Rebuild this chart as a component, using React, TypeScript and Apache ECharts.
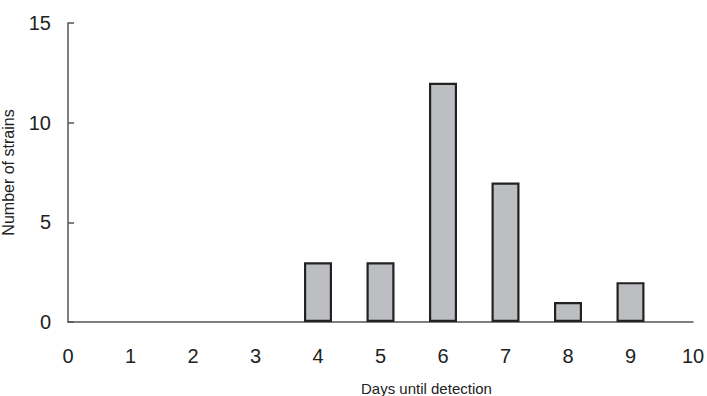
import React, { useEffect, useRef } from "react";
import * as echarts from "echarts";

const days = [4, 5, 6, 7, 8, 9];
const strains = [3, 3, 12, 7, 1, 2];
const xName = "Days until detection";
const yName = "Number of strains";

export default function App() {
  const ref = useRef<HTMLDivElement>(null);
  useEffect(() => {
    const chart = echarts.init(ref.current!, null, { renderer: "svg" });
    const font = "'Liberation Sans', Arial, sans-serif";
    chart.setOption({
      animation: false,
      backgroundColor: "#ffffff",
      grid: { left: 68, right: 14, top: 23, bottom: 74, containLabel: false, outerBoundsMode: "none" },
      xAxis: {
        type: "value",
        min: 0,
        max: 10,
        interval: 1,
        axisLine: { show: true, lineStyle: { color: "#555555", width: 1.5 } },
        axisTick: { show: false },
        splitLine: { show: false },
        axisLabel: { color: "#222222", fontSize: 20, fontFamily: font, margin: 24 },
      },
      yAxis: {
        type: "value",
        min: 0,
        max: 15,
        interval: 5,
        name: yName,
        nameLocation: "middle",
        nameGap: 52,
        nameTextStyle: { color: "#222222", fontSize: 16, fontFamily: font },
        axisLine: { show: true, lineStyle: { color: "#555555", width: 1.5 } },
        axisTick: { show: true, inside: true, length: 6, lineStyle: { color: "#555555", width: 1.5 } },
        splitLine: { show: false },
        axisLabel: { color: "#222222", fontSize: 20, fontFamily: font, margin: 17 },
      },
      graphic: [
        {
          type: "text",
          left: 361,
          top: 381,
          style: { text: xName, fill: "#222222", fontSize: 15, fontFamily: font },
        },
      ],
      series: [
        {
          type: "bar",
          barWidth: 28,
          data: days.map((d, i) => [d, strains[i]]),
          itemStyle: { color: "#bdbec2", borderColor: "#222222", borderWidth: 2.2 },
        },
      ],
    });
    return () => chart.dispose();
  }, []);
  return <div ref={ref} style={{ width: 707, height: 396, position: "absolute", left: 0, top: 0 }} />;
}
